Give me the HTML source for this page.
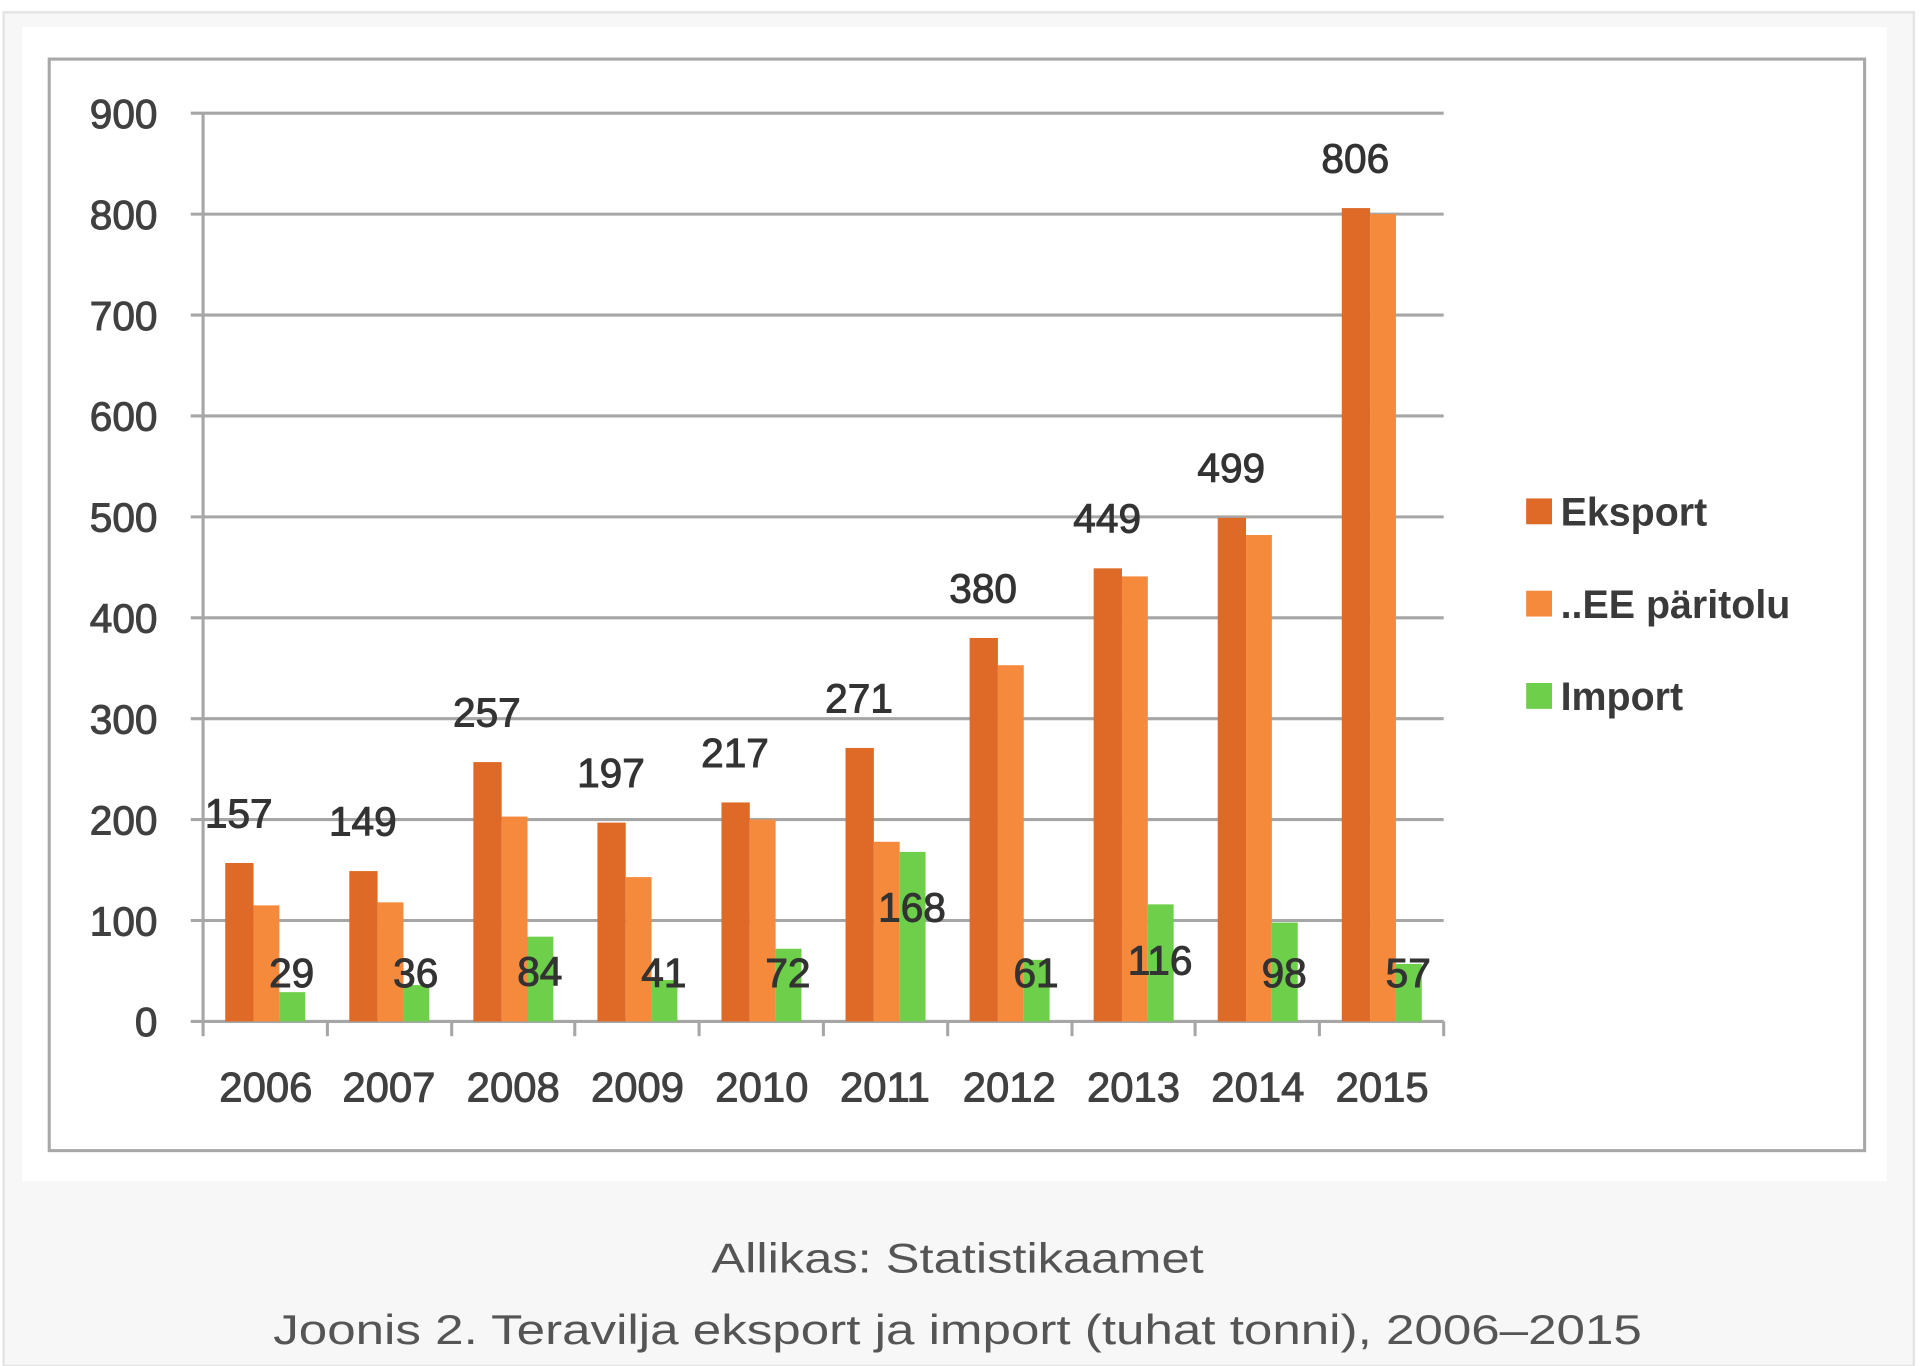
<!DOCTYPE html>
<html><head><meta charset="utf-8"><style>
html,body{margin:0;padding:0;background:#fff;}
svg{display:block;}
</style></head><body>
<svg width="1920" height="1366" viewBox="0 0 1560 1110" preserveAspectRatio="none" xmlns="http://www.w3.org/2000/svg" font-family="'Liberation Sans', 'DejaVu Sans', sans-serif">
<rect x="0" y="0" width="1560" height="1110" fill="#ffffff"/>
<rect x="3" y="10" width="1552" height="1100" fill="#f7f7f7" stroke="#e4e4e4" stroke-width="2"/>
<rect x="18" y="22" width="1515" height="938" fill="#ffffff"/>
<rect x="40" y="48" width="1475" height="887" fill="#ffffff" stroke="#a8a8a8" stroke-width="2.5"/>
<g stroke="#a6a6a6" stroke-width="2.5">
<line x1="155" y1="92" x2="1173" y2="92"/>
<line x1="155" y1="174" x2="1173" y2="174"/>
<line x1="155" y1="256" x2="1173" y2="256"/>
<line x1="155" y1="338" x2="1173" y2="338"/>
<line x1="155" y1="420" x2="1173" y2="420"/>
<line x1="155" y1="502" x2="1173" y2="502"/>
<line x1="155" y1="584" x2="1173" y2="584"/>
<line x1="155" y1="666" x2="1173" y2="666"/>
<line x1="155" y1="748" x2="1173" y2="748"/>
<line x1="155" y1="830" x2="1173" y2="830"/>
<line x1="165" y1="92" x2="165" y2="842"/>
<line x1="266" y1="830" x2="266" y2="842"/>
<line x1="367" y1="830" x2="367" y2="842"/>
<line x1="467" y1="830" x2="467" y2="842"/>
<line x1="568" y1="830" x2="568" y2="842"/>
<line x1="669" y1="830" x2="669" y2="842"/>
<line x1="770" y1="830" x2="770" y2="842"/>
<line x1="871" y1="830" x2="871" y2="842"/>
<line x1="971" y1="830" x2="971" y2="842"/>
<line x1="1072" y1="830" x2="1072" y2="842"/>
<line x1="1173" y1="830" x2="1173" y2="842"/>
</g>
<g font-size="33" fill="#404040" stroke="#404040" stroke-width="0.8" text-anchor="end">
<text x="128" y="104">900</text><text x="128" y="186">800</text><text x="128" y="268">700</text>
<text x="128" y="350">600</text><text x="128" y="432">500</text><text x="128" y="514">400</text>
<text x="128" y="596">300</text><text x="128" y="678">200</text><text x="128" y="760">100</text>
<text x="128" y="842">0</text>
</g>
<g id="bars"></g>
<g font-size="34" fill="#404040" stroke="#404040" stroke-width="0.8" text-anchor="middle">
<text x="216" y="895">2006</text><text x="316" y="895">2007</text><text x="417" y="895">2008</text>
<text x="518" y="895">2009</text><text x="619" y="895">2010</text><text x="719" y="895">2011</text>
<text x="820" y="895">2012</text><text x="921" y="895">2013</text><text x="1022" y="895">2014</text>
<text x="1123" y="895">2015</text>
</g>
<rect x="1240" y="405" width="21" height="21" fill="#df6a28"/>
<rect x="1240" y="480" width="21" height="21" fill="#f58a3c"/>
<rect x="1240" y="555" width="21" height="21" fill="#6dcf4a"/>
<g font-size="32" fill="#3a3a3a" font-weight="bold">
<text x="1268" y="427">Eksport</text>
<text x="1268" y="502">..EE päritolu</text>
<text x="1268" y="577">Import</text>
</g>
<g font-size="34" fill="#555555" text-anchor="middle">
<text x="778" y="1034" textLength="400" lengthAdjust="spacingAndGlyphs">Allikas: Statistikaamet</text>
<text x="778" y="1092" textLength="1112" lengthAdjust="spacingAndGlyphs">Joonis 2. Teravilja eksport ja import (tuhat tonni), 2006–2015</text>
</g>
<script>
var ek=[157,149,257,197,217,271,380,449,499,806];
var ee=[115,118,203,143,200,178,353,441,482,800];
var im=[29,36,84,41,72,168,61,116,98,57];
var iy=[790,790,789,790,790,737,790,780,790,790];
var g=document.getElementById('bars');var ns='http://www.w3.org/2000/svg';
function R(x,y,w,h,c){var r=document.createElementNS(ns,'rect');r.setAttribute('x',x);r.setAttribute('y',y);r.setAttribute('width',w);r.setAttribute('height',h);r.setAttribute('fill',c);g.appendChild(r);}
function T(x,y,s){var t=document.createElementNS(ns,'text');t.setAttribute('x',x);t.setAttribute('y',y);t.setAttribute('font-size','33');t.setAttribute('fill','#333');t.setAttribute('stroke','#333');t.setAttribute('stroke-width','0.8');t.setAttribute('text-anchor','middle');t.textContent=s;g.appendChild(t);}
for(var i=0;i<10;i++){var x=165+i*100.8+18;
R(x,830-ek[i]*0.82,23,ek[i]*0.82,'#df6a28');
R(x+23,830-ee[i]*0.82,21,ee[i]*0.82,'#f58a3c');
R(x+44,830-im[i]*0.82,21,im[i]*0.82,'#6dcf4a');
T(x+11,830-ek[i]*0.82-29,ek[i]);
T(x+54,iy[i]+12,im[i]);}
</script>
</svg>
</body></html>
